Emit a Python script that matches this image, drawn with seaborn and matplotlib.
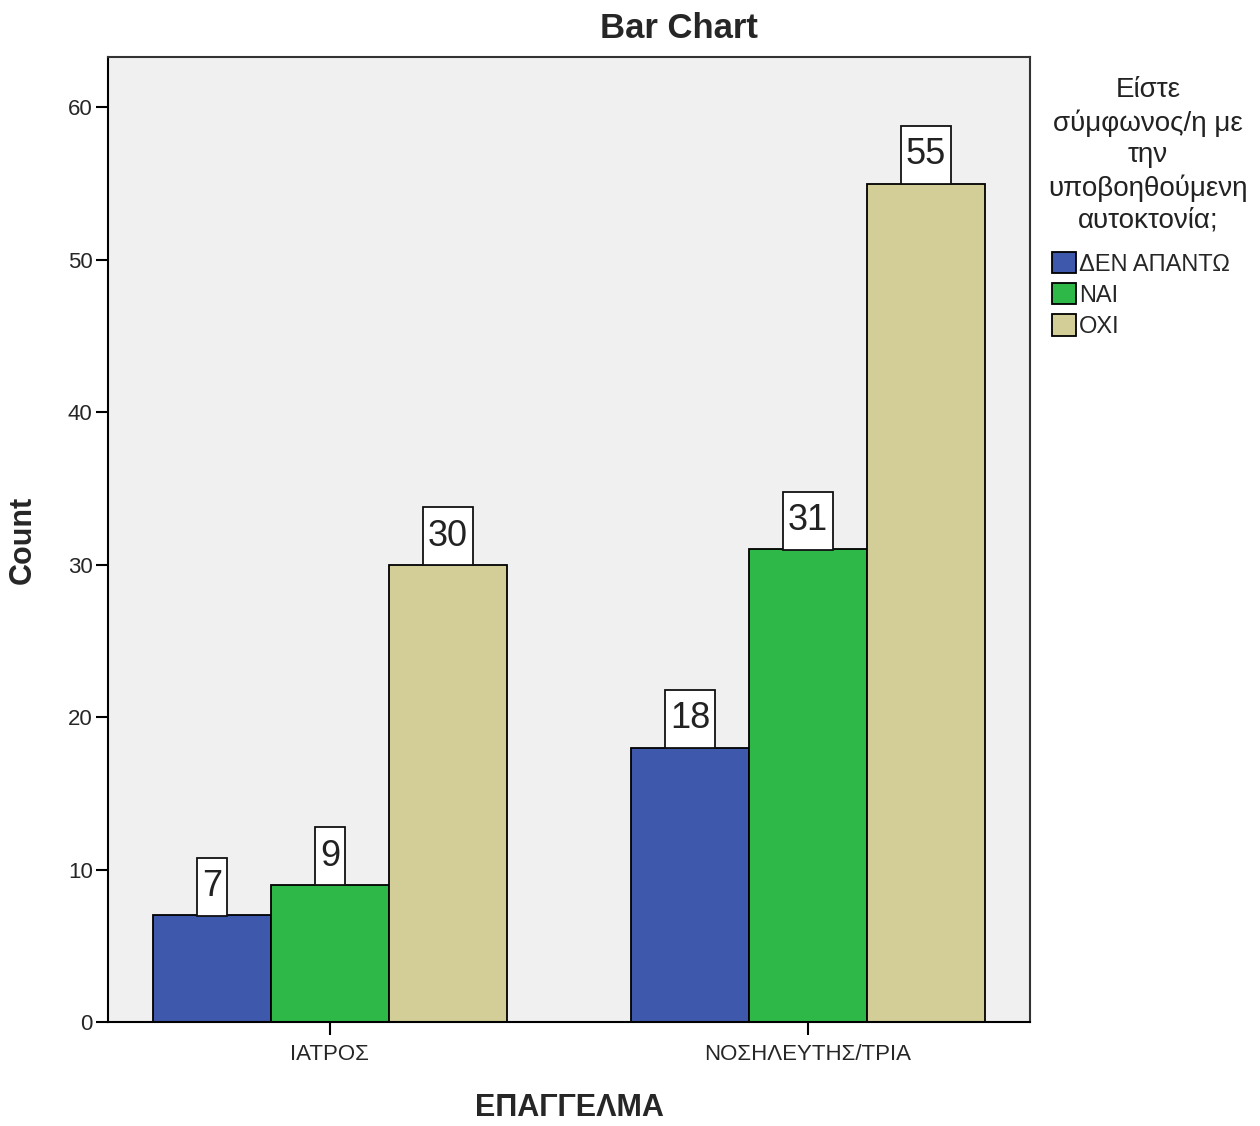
import matplotlib
matplotlib.use("Agg")
import matplotlib.pyplot as plt
import seaborn as sns
import pandas as pd
from matplotlib.patches import Patch
from matplotlib.path import Path

# Counts of agreement with assisted suicide by profession
professions = ["ΙΑΤΡΟΣ", "ΝΟΣΗΛΕΥΤΗΣ/ΤΡΙΑ"]
answers = ["ΔΕΝ ΑΠΑΝΤΩ", "ΝΑΙ", "ΟΧΙ"]
counts_iatros = [7, 9, 30]
counts_nosileutis = [18, 31, 55]
colors = ["#3e58ac", "#2eb848", "#d3ce97"]
yticks = [0, 10, 20, 30, 40, 50, 60]
legend_title = "Είστε\nσύμφωνος/η με\nτην\nυποβοηθούμενη\nαυτοκτονία;"

df = pd.DataFrame({
    "ΕΠΑΓΓΕΛΜΑ": [professions[0]] * 3 + [professions[1]] * 3,
    "answer": answers * 2,
    "Count": counts_iatros + counts_nosileutis,
})

sns.set_theme(style="white")
plt.rcParams["font.family"] = ["Liberation Sans", "DejaVu Sans"]


def tall_box(x0, y0, width, height, mutation_size):
    """Rectangular label box with more room above and below than at the sides."""
    hp, vp = 0.14 * mutation_size, 0.32 * mutation_size
    x0, x1 = x0 - hp, x0 + width + hp
    y0, y1 = y0 - vp, y0 + height + vp
    return Path([(x0, y0), (x1, y0), (x1, y1), (x0, y1), (x0, y0)], closed=True)


W, H = 1260, 1126
fig = plt.figure(figsize=(W / 100, H / 100), dpi=100)
ax = fig.add_axes([108 / W, 1 - 1022 / H, (1030 - 108) / W, (1022 - 57) / H])
ax.set_facecolor("#f0f0f0")

sns.barplot(data=df, x="ΕΠΑΓΓΕΛΜΑ", y="Count", hue="answer",
            order=professions, hue_order=answers, palette=colors,
            width=0.74, edgecolor="black", linewidth=1.3,
            saturation=1, legend=False, ax=ax)

# value boxes sitting on top of each bar
for cont in ax.containers:
    ax.bar_label(cont, fontsize=26, color="#222222", padding=8,
                 bbox=dict(boxstyle=tall_box, fc="white", ec="#111111", lw=1.3))

ax.set_xlim(-0.464, 1.464)
ax.set_ylim(0, 63.3)
ax.set_yticks(yticks)
ax.tick_params(axis="both", direction="out", length=9, width=1.5, color="black",
               labelsize=16, left=True, bottom=True)
ax.tick_params(axis="x", pad=7)
ax.tick_params(axis="y", pad=2)
for s in ax.spines.values():
    s.set_color("#333333")
    s.set_linewidth(1.5)
ax.spines["left"].set_color("black")
ax.spines["bottom"].set_color("black")

ax.set_xlabel("ΕΠΑΓΓΕΛΜΑ", fontsize=22, fontweight="bold", labelpad=20)
ax.set_ylabel("Count", fontsize=22, fontweight="bold", labelpad=22)
fig.text(679 / W, 1 - 28 / H, "Bar Chart", fontsize=25, fontweight="bold",
         ha="center", va="center")

# legend: centered multi-line title above the colour keys
fig.text(1148 / W, 1 - 77 / H, legend_title, fontsize=20, ha="center", va="top",
         multialignment="center", linespacing=1.28, color="#222222")
handles = [Patch(facecolor=c, edgecolor="black", lw=1.3) for c in colors]
fig.legend(handles, answers, loc="upper left",
           bbox_to_anchor=(1052 / W, 1 - 252 / H),
           frameon=False, fontsize=17,
           handlelength=1.0, handleheight=1.0, handletextpad=0.15,
           labelspacing=0.32, borderaxespad=0, borderpad=0)

fig.savefig("out.png", dpi=100)
